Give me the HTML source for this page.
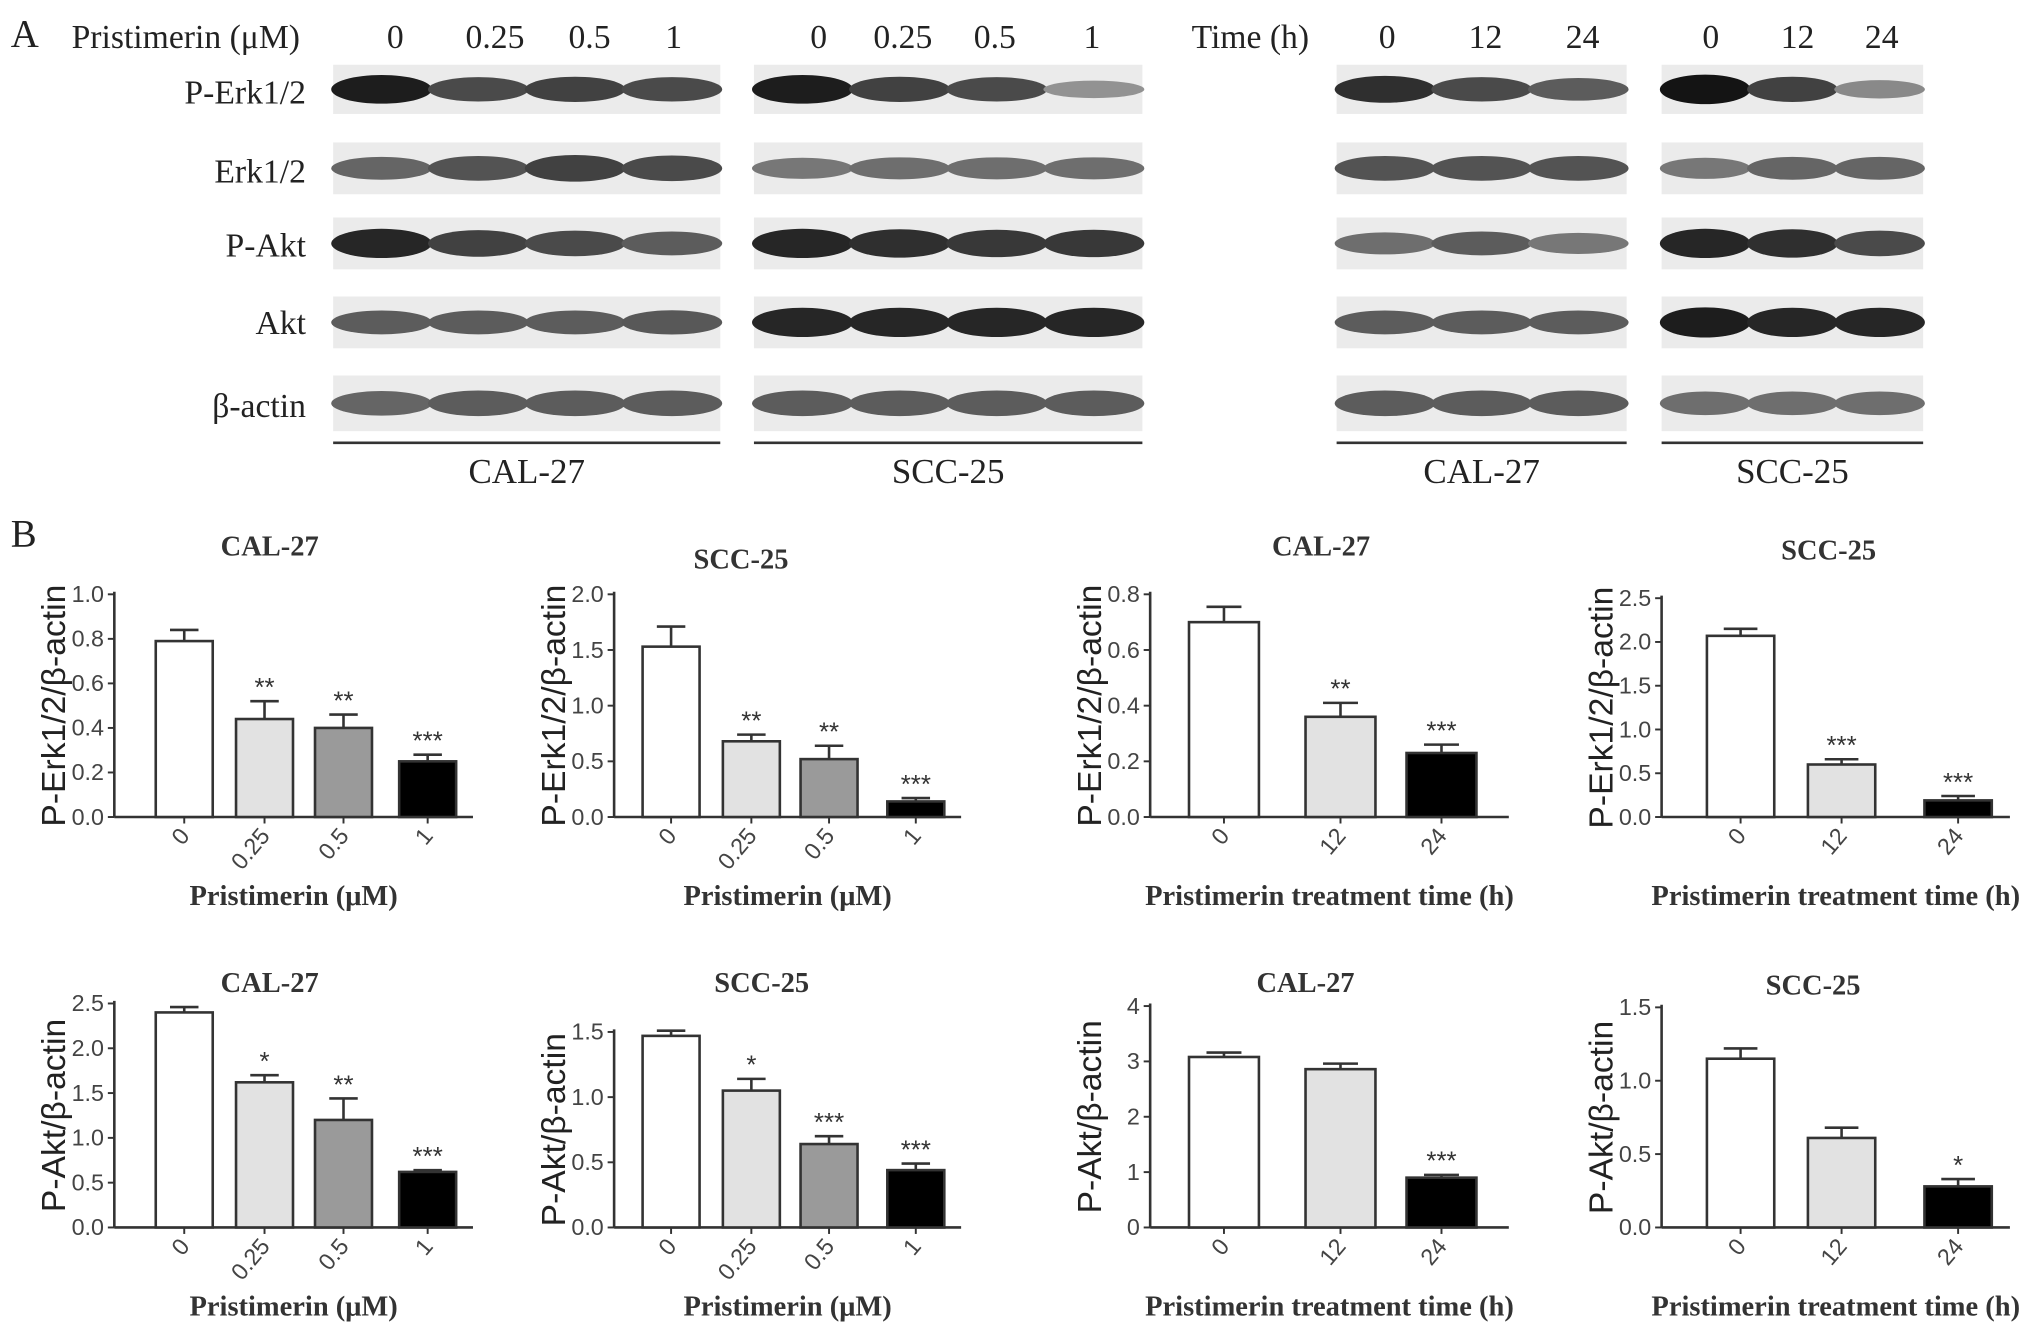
<!DOCTYPE html>
<html><head><meta charset="utf-8"><style>
html,body{margin:0;padding:0;background:#fff}
svg{display:block}
.serif{font-family:"Liberation Serif",serif}
.sans{font-family:"Liberation Sans",sans-serif}
</style></head><body>
<svg id="fig" width="2031" height="1344" viewBox="0 0 1568 1038" xmlns="http://www.w3.org/2000/svg">
<rect width="1568" height="1038" fill="#fff"/>
<g id="partA" class="serif" fill="#222">
<text x="8" y="36" font-size="30">A</text>
<text x="55" y="37" font-size="26">Pristimerin (μM)</text>
<text x="920" y="37" font-size="26">Time (h)</text>
</g>
<g id="partB">
<text x="8" y="422" font-size="30" class="serif" fill="#222">B</text>
</g>
</svg>
<script>
const NS="http://www.w3.org/2000/svg";
function mk(parent,tag,attrs,text){const e=document.createElementNS(NS,tag);for(const k in attrs)e.setAttribute(k,attrs[k]);if(text!==undefined)e.textContent=text;parent.appendChild(e);return e;}
const A=document.getElementById('partA');
const doseLabels=['0','0.25','0.5','1'];
const timeLabels=['0','12','24'];
const rowNames=['P-Erk1/2','Erk1/2','P-Akt','Akt','β-actin'];
const cellLines=['CAL-27','SCC-25','CAL-27','SCC-25'];
const bandsP1=[[0.95,0.7,0.75,0.7],[0.55,0.65,0.75,0.7],[0.9,0.75,0.7,0.6],[0.6,0.6,0.6,0.62],[0.55,0.6,0.6,0.6]];
const bandsP2=[[0.95,0.75,0.7,0.3],[0.45,0.5,0.5,0.5],[0.9,0.85,0.8,0.8],[0.9,0.9,0.9,0.9],[0.6,0.6,0.6,0.6]];
const bandsP3=[[0.85,0.7,0.6],[0.65,0.65,0.65],[0.5,0.6,0.45],[0.6,0.6,0.6],[0.6,0.6,0.6]];
const bandsP4=[[1.0,0.75,0.35],[0.45,0.55,0.55],[0.9,0.85,0.7],[0.95,0.9,0.9],[0.5,0.5,0.5]];
const panels=[{x0:257,x1:556,bands:bandsP1,labs:doseLabels,lx:[305,382,455,520]},
{x0:582,x1:882,bands:bandsP2,labs:doseLabels,lx:[632,697,768,843]},
{x0:1032,x1:1256,bands:bandsP3,labs:timeLabels,lx:[1071,1147,1222]},
{x0:1283,x1:1485,bands:bandsP4,labs:timeLabels,lx:[1321,1388,1453]}];
const rowY=[[50,88],[110,150],[168,208],[229,269],[290,333]];
const rowLabY=[72,133,190,250,314];
rowNames.forEach((n,i)=>{const t=mk(A,'text',{x:236,y:rowLabY[i]+8,'font-size':26,'text-anchor':'end'},n);

});
panels.forEach((p,pi)=>{
 p.labs.forEach((l,li)=>{const t=mk(A,'text',{x:p.lx[li],y:37,'font-size':26,'text-anchor':'middle'},l);
 
 });
 const n=p.labs.length, w=(p.x1-p.x0)/n;
 rowY.forEach((ry,ri)=>{
  const r=mk(A,'rect',{x:p.x0,y:ry[0],width:p.x1-p.x0,height:ry[1]-ry[0],fill:'#ebebeb'});
  
  
  p.bands[ri].forEach((v,bi)=>{
   const g=Math.round(200-180*v);
   const h=(ry[1]-ry[0])*(0.25+0.35*v);
   const e=mk(A,'ellipse',{cx:p.x0+w*(bi+0.5),cy:(ry[0]+ry[1])/2,rx:w*0.52,ry:h/2,fill:`rgb(${g},${g},${g})`});
   
   
  });
 });
 const l=mk(A,'line',{x1:p.x0,x2:p.x1,y1:342,y2:342,stroke:'#333','stroke-width':2});
 
 
 const t=mk(A,'text',{x:(p.x0+p.x1)/2,y:373,'font-size':27,'text-anchor':'middle'},cellLines[pi]);
 
 
});

const c1Vals=[0.79,0.44,0.40,0.25], c1Err=[0.05,0.08,0.06,0.03], c1Stars=['','**','**','***'];
const c2Vals=[1.53,0.68,0.52,0.14], c2Err=[0.18,0.06,0.12,0.03], c2Stars=['','**','**','***'];
const c3Vals=[0.70,0.36,0.23], c3Err=[0.055,0.05,0.03], c3Stars=['','**','***'];
const c4Vals=[2.07,0.60,0.19], c4Err=[0.08,0.06,0.05], c4Stars=['','***','***'];
const c5Vals=[2.40,1.62,1.20,0.62], c5Err=[0.06,0.08,0.24,0.02], c5Stars=['','*','**','***'];
const c6Vals=[1.47,1.05,0.64,0.44], c6Err=[0.04,0.09,0.06,0.05], c6Stars=['','*','***','***'];
const c7Vals=[3.08,2.86,0.90], c7Err=[0.08,0.10,0.05], c7Stars=['','','***'];
const c8Vals=[1.15,0.61,0.28], c8Err=[0.07,0.07,0.05], c8Stars=['','','*'];
const doseTicks=['0','0.25','0.5','1'], timeTicks=['0','12','24'];
const yt1=[0,0.2,0.4,0.6,0.8,1.0], yt2=[0,0.5,1.0,1.5,2.0], yt3=[0,0.2,0.4,0.6,0.8], yt4=[0,0.5,1.0,1.5,2.0,2.5];
const yt5=[0,0.5,1.0,1.5,2.0,2.5], yt6=[0,0.5,1.0,1.5], yt7=[0,1,2,3,4], yt8=[0,0.5,1.0,1.5];
const fills4=['#fff','#e2e2e2','#9a9a9a','#000'], fills3=['#fff','#e2e2e2','#000'];
const doseX=[142,204,265,330], dose2X=[518,580,640,707], timeX=[945,1035,1113], time2X=[1344,1422,1512];

const B=document.getElementById('partB');
function chart(cfg){
 const g=mk(B,'g',{});
 
 
 const y=v=>cfg.yb-(v/cfg.ymax)*(cfg.yb-cfg.yt);
 const dec=cfg.dec;
 mk(g,'line',{x1:cfg.ax,x2:cfg.ax,y1:y(cfg.ymax)-2,y2:cfg.yb,stroke:'#333','stroke-width':2});
 mk(g,'line',{x1:cfg.ax,x2:cfg.xe,y1:cfg.yb,y2:cfg.yb,stroke:'#333','stroke-width':2});
 cfg.ticks.forEach(v=>{
  mk(g,'line',{x1:cfg.ax-5,x2:cfg.ax,y1:y(v),y2:y(v),stroke:'#333','stroke-width':1.5});
  const t=mk(g,'text',{x:cfg.ax-8,y:y(v)+6,'font-size':18,'text-anchor':'end',fill:'#444',class:'sans'},v.toFixed(dec));
  
  
 });
 const bw=cfg.bw;
 cfg.vals.forEach((v,i)=>{
  const cx=cfg.xs[i];
  const e=cfg.err[i];
  mk(g,'line',{x1:cx,x2:cx,y1:y(v),y2:y(v+e),stroke:'#333','stroke-width':2});
  mk(g,'line',{x1:cx-bw*0.25,x2:cx+bw*0.25,y1:y(v+e),y2:y(v+e),stroke:'#333','stroke-width':2});
  const r=mk(g,'rect',{x:cx-bw/2,y:y(v),width:bw,height:cfg.yb-y(v),fill:cfg.fills[i],stroke:'#333','stroke-width':2});
  
  
  if(cfg.stars[i]){const s=mk(g,'text',{x:cx,y:y(v+e)-4,'font-size':20,'text-anchor':'middle',fill:'#333',class:'sans'},cfg.stars[i]);
   
   }
  mk(g,'line',{x1:cx,x2:cx,y1:cfg.yb,y2:cfg.yb+5,stroke:'#333','stroke-width':1.5});
  const t=mk(g,'text',{x:cx+5,y:cfg.yb+15,'font-size':18,'text-anchor':'end',fill:'#444',class:'sans',transform:`rotate(-50 ${cx+5} ${cfg.yb+15})`},cfg.cats[i]);
  
  
 });
 const tt=mk(g,'text',{x:cfg.tx,y:cfg.ty,'font-size':22,'font-weight':'bold','text-anchor':'middle',fill:'#333',class:'serif'},cfg.title);
 
 
 const xt=mk(g,'text',{x:(cfg.ax+cfg.xe)/2,y:cfg.yb+68,'font-size':22,'font-weight':'bold','text-anchor':'middle',fill:'#333',class:'serif'},cfg.xtitle);
 
 
 const ly=(cfg.yb+y(cfg.ymax))/2, lx=cfg.ax-38;
 const yl=mk(g,'text',{x:lx,y:ly,'font-size':26,'text-anchor':'middle',fill:'#222',class:'sans',transform:`rotate(-90 ${lx} ${ly})`},cfg.ylabel);
 
 
}
const erk='P-Erk1/2/β-actin', akt='P-Akt/β-actin', pd='Pristimerin (μM)', pt='Pristimerin treatment time (h)';
chart({name:'chart-cal27-erk-dose',ax:88,xe:365,yt:459,yb:631,ymax:1.0,ticks:yt1,dec:1,vals:c1Vals,err:c1Err,stars:c1Stars,cats:doseTicks,xs:doseX,bw:44,fills:fills4,title:'CAL-27',tx:208,ty:429,xtitle:pd,ylabel:erk});
chart({name:'chart-scc25-erk-dose',ax:474,xe:742,yt:459,yb:631,ymax:2.0,ticks:yt2,dec:1,vals:c2Vals,err:c2Err,stars:c2Stars,cats:doseTicks,xs:dose2X,bw:44,fills:fills4,title:'SCC-25',tx:572,ty:439,xtitle:pd,ylabel:erk});
chart({name:'chart-cal27-erk-time',ax:888,xe:1165,yt:459,yb:631,ymax:0.8,ticks:yt3,dec:1,vals:c3Vals,err:c3Err,stars:c3Stars,cats:timeTicks,xs:timeX,bw:54,fills:fills3,title:'CAL-27',tx:1020,ty:429,xtitle:pt,ylabel:erk});
chart({name:'chart-scc25-erk-time',ax:1283,xe:1552,yt:462,yb:631,ymax:2.5,ticks:yt4,dec:1,vals:c4Vals,err:c4Err,stars:c4Stars,cats:timeTicks,xs:time2X,bw:52,fills:fills3,title:'SCC-25',tx:1412,ty:432,xtitle:pt,ylabel:erk});
chart({name:'chart-cal27-akt-dose',ax:88,xe:365,yt:775,yb:948,ymax:2.5,ticks:yt5,dec:1,vals:c5Vals,err:c5Err,stars:c5Stars,cats:doseTicks,xs:doseX,bw:44,fills:fills4,title:'CAL-27',tx:208,ty:766,xtitle:pd,ylabel:akt});
chart({name:'chart-scc25-akt-dose',ax:474,xe:742,yt:797,yb:948,ymax:1.5,ticks:yt6,dec:1,vals:c6Vals,err:c6Err,stars:c6Stars,cats:doseTicks,xs:dose2X,bw:44,fills:fills4,title:'SCC-25',tx:588,ty:766,xtitle:pd,ylabel:akt});
chart({name:'chart-cal27-akt-time',ax:888,xe:1165,yt:777,yb:948,ymax:4,ticks:yt7,dec:0,vals:c7Vals,err:c7Err,stars:c7Stars,cats:timeTicks,xs:timeX,bw:54,fills:fills3,title:'CAL-27',tx:1008,ty:766,xtitle:pt,ylabel:akt});
chart({name:'chart-scc25-akt-time',ax:1283,xe:1552,yt:778,yb:948,ymax:1.5,ticks:yt8,dec:1,vals:c8Vals,err:c8Err,stars:c8Stars,cats:timeTicks,xs:time2X,bw:52,fills:fills3,title:'SCC-25',tx:1400,ty:768,xtitle:pt,ylabel:akt});
</script>
</body></html>
